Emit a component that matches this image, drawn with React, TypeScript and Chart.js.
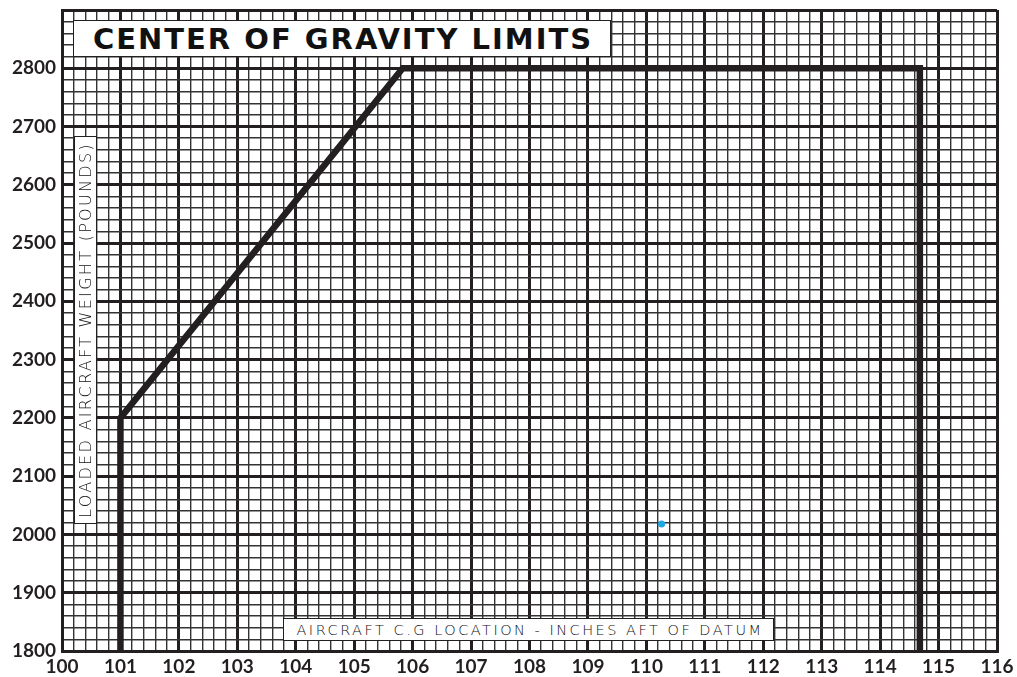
import React, { useEffect, useRef } from 'react';
import { Chart, registerables } from 'chart.js';

Chart.register(...registerables);

// ---- data ----
const envelopeX = [101, 101, 105.83, 114.68, 114.68];
const envelopeY = [1800, 2200, 2800, 2800, 1800];
const cgX = [110.26];
const cgY = [2018];
const xTickLabels = ['100', '101', '102', '103', '104', '105', '106', '107', '108', '109', '110', '111', '112', '113', '114', '115', '116'];
const yTickLabels = ['1800', '1900', '2000', '2100', '2200', '2300', '2400', '2500', '2600', '2700', '2800'];
const titleText = 'CENTER OF GRAVITY LIMITS';
const xAxisTitle = 'AIRCRAFT C.G LOCATION - INCHES AFT OF DATUM';
const yAxisTitle = 'LOADED AIRCRAFT WEIGHT (POUNDS)';

const INK = '#231f20';

const near = (v: number, step: number) => Math.abs(v / step - Math.round(v / step)) < 1e-6;

export default function App() {
  const ref = useRef<HTMLCanvasElement | null>(null);

  useEffect(() => {
    document.body.style.margin = '0';
    const ctx = ref.current!.getContext('2d')!;
    const chart = new Chart(ctx, {
      type: 'scatter',
      data: {
        datasets: [
          {
            label: 'cg',
            data: cgX.map((x, i) => ({ x, y: cgY[i] })),
            pointRadius: 3.5,
            pointBackgroundColor: '#1ea8e4',
            pointBorderColor: '#1ea8e4',
            pointBorderWidth: 0,
            order: 0,
          },
          {
            label: 'envelope',
            data: envelopeX.map((x, i) => ({ x, y: envelopeY[i] })),
            showLine: true,
            borderColor: INK,
            borderWidth: 6.5,
            borderJoinStyle: 'miter',
            pointRadius: 0,
            fill: false,
            order: 1,
          },
        ],
      },
      options: {
        animation: false,
        responsive: false,
        layout: { padding: { top: 10, right: 20, left: 0, bottom: 0 } },
        plugins: { legend: { display: false }, tooltip: { enabled: false } },
        scales: {
          x: {
            type: 'linear',
            min: 100,
            max: 116,
            afterFit: (s: any) => { s.height = 26; s.paddingLeft = 0; s.paddingRight = 0; },
            border: { display: true, color: INK, width: 3 },
            grid: {
              drawTicks: false,
              color: (c: any) => (near(c.tick.value, 1) ? INK : '#333'),
              lineWidth: (c: any) => (near(c.tick.value, 1) ? 3 : 1.4),
            },
            ticks: {
              stepSize: 0.2,
              maxTicksLimit: 1000,
              autoSkip: false,
              maxRotation: 0,
              minRotation: 0,
              padding: 4,
              color: INK,
              font: { family: 'Lato', weight: 'bold', size: 19 },
              callback: (v: any) => {
                const n = Number(v);
                if (!near(n, 1)) return '';
                const s = String(Math.round(n));
                return xTickLabels.includes(s) ? s : '';
              },
            },
          },
          y: {
            type: 'linear',
            min: 1800,
            max: 2900,
            afterFit: (s: any) => { s.width = 62; s.paddingTop = 0; s.paddingBottom = 0; },
            border: { display: true, color: INK, width: 3 },
            grid: {
              drawTicks: false,
              color: (c: any) => (near(c.tick.value, 100) ? INK : '#333'),
              lineWidth: (c: any) => (near(c.tick.value, 100) ? 3 : 1.4),
            },
            ticks: {
              stepSize: 20,
              maxTicksLimit: 1000,
              autoSkip: false,
              padding: 6,
              color: INK,
              font: { family: 'Lato', weight: 'bold', size: 19 },
              callback: (v: any) => {
                const n = Number(v);
                if (!near(n, 100)) return '';
                const s = String(Math.round(n));
                return yTickLabels.includes(s) ? s : '';
              },
            },
          },
        },
      },
    });
    return () => chart.destroy();
  }, []);

  const box: React.CSSProperties = {
    position: 'absolute',
    background: '#fff',
    border: `1.5px solid ${INK}`,
    boxSizing: 'border-box',
    color: '#111',
    display: 'flex',
    alignItems: 'center',
    justifyContent: 'center',
    whiteSpace: 'nowrap',
  };

  return (
    <div style={{ position: 'absolute', left: 0, top: 0, width: 1017, height: 677, background: '#fff' }}>
      <canvas ref={ref} width={1017} height={677} style={{ display: 'block', width: 1017, height: 677 }} />
      <div
        style={{
          ...box,
          left: 73,
          top: 20,
          width: 538,
          height: 37,
          fontFamily: '"DejaVu Sans"',
          fontWeight: 'bold',
          fontSize: 29,
          letterSpacing: 2,
          paddingLeft: 2,
        }}
      >
        {titleText}
      </div>
      <div
        style={{
          ...box,
          left: 74,
          top: 136,
          width: 23,
          height: 388,
          fontFamily: '"DejaVu Sans"',
          fontWeight: 200,
          fontSize: 16,
          letterSpacing: 2.3,
          writingMode: 'vertical-rl',
          transform: 'rotate(180deg)',
        }}
      >
        {yAxisTitle}
      </div>
      <div
        style={{
          ...box,
          left: 283,
          top: 618,
          width: 491,
          height: 23,
          fontFamily: '"DejaVu Sans"',
          fontWeight: 200,
          fontSize: 14.5,
          letterSpacing: 2.5,
          paddingLeft: 3,
        }}
      >
        {xAxisTitle}
      </div>
    </div>
  );
}
